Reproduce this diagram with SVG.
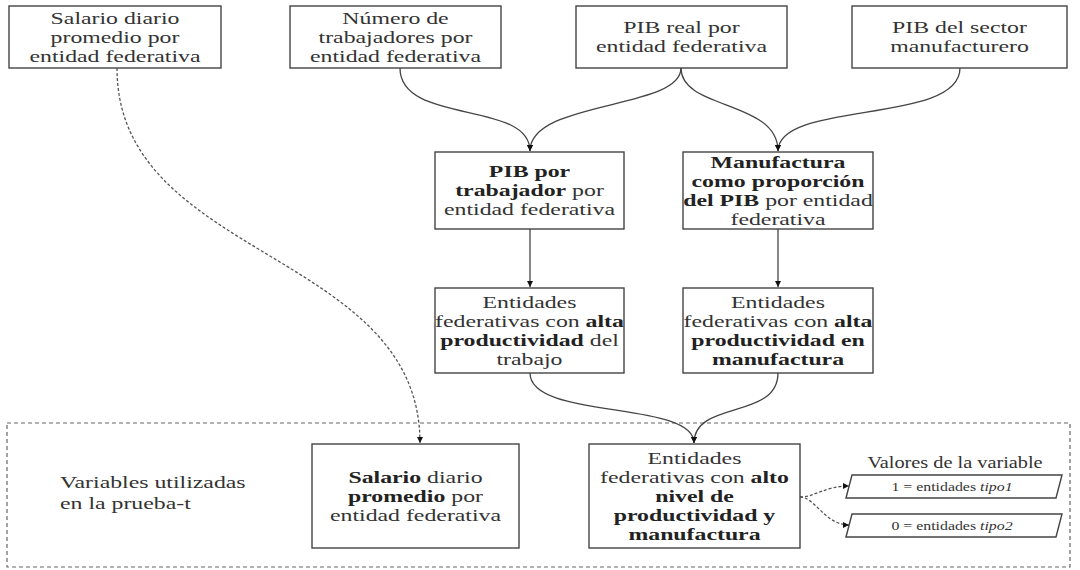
<svg xmlns="http://www.w3.org/2000/svg" width="1080" height="570" viewBox="0 0 1080 570">
<style>
.box{fill:#fff;stroke:#444;stroke-width:1.4}
.t{font-family:"Liberation Serif","Times New Roman",serif;font-size:17px;fill:#333;text-anchor:middle}
.b{font-weight:bold;fill:#222}
.i{font-style:italic}
.l{text-anchor:start}
.c{fill:none;stroke:#444;stroke-width:1.3}
.d{fill:none;stroke:#555;stroke-width:1.3;stroke-dasharray:3 2}
.frame{fill:none;stroke:#666;stroke-width:1.2;stroke-dasharray:4 3}
</style>
<defs>
<marker id="ah" markerUnits="userSpaceOnUse" markerWidth="7" markerHeight="7" refX="6" refY="3" orient="auto">
<path d="M0,0 L6,3 L0,6 z" fill="#111"/>
</marker>
</defs>
<rect width="1080" height="570" fill="#fff"/>
<rect id="frame" class="frame" x="7" y="423" width="1063" height="144"/>

<g id="connectors">
<path class="d" d="M117,68 C117,260 420,250 420,443" marker-end="url(#ah)"/>
<path class="c" d="M400,68 C400,125 530,100 530,151" marker-end="url(#ah)"/>
<path class="c" d="M681,68 C681,110 530,100 530,151" marker-end="url(#ah)"/>
<path class="c" d="M681,68 C681,110 778,100 778,151" marker-end="url(#ah)"/>
<path class="c" d="M960,68 C960,125 778,100 778,151" marker-end="url(#ah)"/>
<path class="c" d="M530,229 L530,287" marker-end="url(#ah)"/>
<path class="c" d="M778,229 L778,287" marker-end="url(#ah)"/>
<path class="c" d="M530,373 C530,420 694,400 694,443" marker-end="url(#ah)"/>
<path class="c" d="M778,373 C778,420 694,400 694,443" marker-end="url(#ah)"/>
<path class="d" d="M800,497 C815,497 825,486 849,486" marker-end="url(#ah)"/>
<path class="d" d="M800,497 C815,497 825,525 849,525" marker-end="url(#ah)"/>
</g>

<g id="n1">
<rect class="box" x="9" y="6" width="212" height="62"/>
<text class="t" transform="matrix(1.4 0 0 1 115 0)"><tspan x="0" y="24.5">Salario diario</tspan><tspan x="0" y="43.5">promedio por</tspan><tspan x="0" y="62.5">entidad federativa</tspan></text>
</g>
<g id="n2">
<rect class="box" x="290" y="6" width="211" height="62"/>
<text class="t" transform="matrix(1.4 0 0 1 395.5 0)"><tspan x="0" y="24.5">Número de</tspan><tspan x="0" y="43.5">trabajadores por</tspan><tspan x="0" y="62.5">entidad federativa</tspan></text>
</g>
<g id="n3">
<rect class="box" x="576" y="6" width="211" height="62"/>
<text class="t" transform="matrix(1.4 0 0 1 681.5 0)"><tspan x="0" y="33.5">PIB real por</tspan><tspan x="0" y="52.5">entidad federativa</tspan></text>
</g>
<g id="n4">
<rect class="box" x="852" y="6" width="215" height="62"/>
<text class="t" transform="matrix(1.4 0 0 1 959.5 0)"><tspan x="0" y="33.5">PIB del sector</tspan><tspan x="0" y="52.5">manufacturero</tspan></text>
</g>
<g id="n5">
<rect class="box" x="435" y="152" width="189" height="77"/>
<text class="t" transform="matrix(1.4 0 0 1 529.5 0)"><tspan x="0" y="177.5" class="b">PIB por</tspan><tspan x="0" y="196.5"><tspan class="b">trabajador</tspan> por</tspan><tspan x="0" y="215.5">entidad federativa</tspan></text>
</g>
<g id="n6">
<rect class="box" x="683" y="152" width="190" height="77"/>
<text class="t" transform="matrix(1.4 0 0 1 778 0)"><tspan x="0" y="168" class="b">Manufactura</tspan><tspan x="0" y="187" class="b">como proporción</tspan><tspan x="0" y="206"><tspan class="b">del PIB</tspan> por entidad</tspan><tspan x="0" y="225">federativa</tspan></text>
</g>
<g id="n7">
<rect class="box" x="435" y="288" width="189" height="85"/>
<text class="t" transform="matrix(1.4 0 0 1 529.5 0)"><tspan x="0" y="308">Entidades</tspan><tspan x="0" y="327">federativas con <tspan class="b">alta</tspan></tspan><tspan x="0" y="346"><tspan class="b">productividad</tspan> del</tspan><tspan x="0" y="365">trabajo</tspan></text>
</g>
<g id="n8">
<rect class="box" x="683" y="288" width="190" height="85"/>
<text class="t" transform="matrix(1.4 0 0 1 778 0)"><tspan x="0" y="308">Entidades</tspan><tspan x="0" y="327">federativas con <tspan class="b">alta</tspan></tspan><tspan x="0" y="346" class="b">productividad en</tspan><tspan x="0" y="365" class="b">manufactura</tspan></text>
</g>
<g id="label-variables">
<text class="t l" transform="matrix(1.4 0 0 1 60 0)"><tspan x="0" y="488">Variables utilizadas</tspan><tspan x="0" y="509">en la prueba-t</tspan></text>
</g>
<g id="n9">
<rect class="box" x="312" y="444" width="207" height="104"/>
<text class="t" transform="matrix(1.4 0 0 1 415.5 0)"><tspan x="0" y="483"><tspan class="b">Salario</tspan> diario</tspan><tspan x="0" y="502"><tspan class="b">promedio</tspan> por</tspan><tspan x="0" y="521">entidad federativa</tspan></text>
</g>
<g id="n10">
<rect class="box" x="589" y="444" width="211" height="104"/>
<text class="t" transform="matrix(1.4 0 0 1 694.5 0)"><tspan x="0" y="464">Entidades</tspan><tspan x="0" y="483">federativas con <tspan class="b">alto</tspan></tspan><tspan x="0" y="502" class="b">nivel de</tspan><tspan x="0" y="521" class="b">productividad y</tspan><tspan x="0" y="540" class="b">manufactura</tspan></text>
</g>
<g id="label-valores">
<text class="t" style="font-size:16px" transform="matrix(1.27 0 0 1 955 0)"><tspan x="0" y="468">Valores de la variable</tspan></text>
</g>
<g id="v1">
<polygon class="box" points="846,498 852,475 1062,475 1056,498"/>
<text class="t" style="font-size:12.5px" transform="matrix(1.27 0 0 1 952 0)"><tspan x="0" y="491">1 = entidades <tspan class="i">tipo1</tspan></tspan></text>
</g>
<g id="v2">
<polygon class="box" points="846,537 852,514 1062,514 1056,537"/>
<text class="t" style="font-size:12.5px" transform="matrix(1.27 0 0 1 952 0)"><tspan x="0" y="530">0 = entidades <tspan class="i">tipo2</tspan></tspan></text>
</g>
</svg>
